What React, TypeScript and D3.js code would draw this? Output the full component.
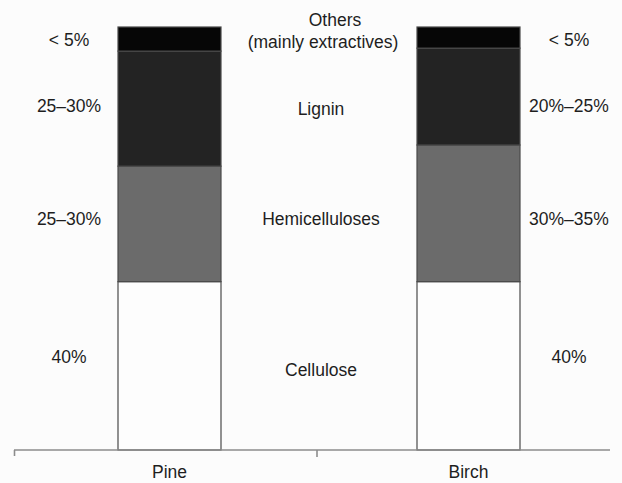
import React from 'react';
import * as d3 from 'd3';

// wood species and their share (%) of each component, bottom to top
const species = ['Pine', 'Birch'];
const components = ['Cellulose', 'Hemicelluloses', 'Lignin', 'Others'];
const pineShare = [39.8, 27.3, 27.2, 5.7];
const birchShare = [39.8, 32.3, 22.9, 5.0];
const pineLabels = ['40%', '25–30%', '25–30%', '< 5%'];
const birchLabels = ['40%', '30%–35%', '20%–25%', '< 5%'];
const componentNames = [['Cellulose'], ['Hemicelluloses'], ['Lignin'], ['Others', '(mainly extractives)']];

const W = 622;
const H = 483;
const FONT = 'Liberation Sans, Arial, Helvetica, sans-serif';

export default function App() {
  const rows = components.map((c, i) => ({ comp: c, Pine: pineShare[i], Birch: birchShare[i] }));
  const table: Record<string, number | string>[] = species.map((s) => {
    const r: Record<string, number | string> = { species: s };
    components.forEach((c, i) => (r[c] = s === 'Pine' ? pineShare[i] : birchShare[i]));
    return r;
  });
  const stacked = d3.stack<any>().keys(components)(table);

  const x = d3.scalePoint<string>().domain(species).range([20, 618]).padding(0.5);
  const y = d3.scaleLinear().domain([0, 100]).range([450, 27]);
  const barW = 103;
  const fills = ['#fdfdfd', '#6b6b6b', '#232323', '#060606'];

  // label rows sit at the average of both bars' segment midpoints
  const mid = (k: number) =>
    d3.mean(stacked[k], (d) => y((d[0] + d[1]) / 2)) as number;
  const pctNudge = [-9, 0, 3, 2];
  const nameNudge = [4, 0, 6, 0];

  const leftX = (x('Pine') as number) - barW / 2 - 49;
  const rightX = (x('Birch') as number) + barW / 2 + 49;
  const centerX = ((x('Pine') as number) + (x('Birch') as number)) / 2;

  const txt = { fontFamily: FONT, fontSize: 17.5, fill: '#1e1e1e' } as const;

  return (
    <svg width={W} height={H} style={{ position: 'absolute', left: 0, top: 0, background: '#fcfcfc' }}>
      {stacked.map((layer, k) =>
        layer.map((d, j) => (
          <rect
            key={`${k}-${j}`}
            x={(x(species[j]) as number) - barW / 2}
            y={y(d[1])}
            width={barW}
            height={y(d[0]) - y(d[1])}
            fill={fills[k]}
            stroke="#4a4a4a"
            strokeWidth={1.2}
          />
        ))
      )}

      {/* baseline axis */}
      <line x1={14} x2={610} y1={y(0)} y2={y(0)} stroke="#8c8c8c" strokeWidth={1.6} />
      <line x1={14.5} x2={14.5} y1={y(0)} y2={y(0) + 6} stroke="#8c8c8c" strokeWidth={1.6} />
      <line x1={centerX - 2} x2={centerX - 2} y1={y(0)} y2={y(0) + 7} stroke="#8c8c8c" strokeWidth={1.6} />

      {species.map((s) => (
        <text key={s} x={x(s)} y={472} textAnchor="middle" dominantBaseline="central" {...txt}>
          {s}
        </text>
      ))}

      {components.map((c, k) => {
        const yy = mid(k);
        const names = componentNames[k];
        return (
          <g key={c}>
            <text x={leftX} y={yy + pctNudge[k]} textAnchor="middle" dominantBaseline="central" {...txt}>
              {pineLabels[k]}
            </text>
            <text x={rightX} y={yy + pctNudge[k]} textAnchor="middle" dominantBaseline="central" {...txt}>
              {birchLabels[k]}
            </text>
            {names.length === 1 ? (
              <text x={centerX + 2} y={yy + nameNudge[k]} textAnchor="middle" dominantBaseline="central" {...txt}>
                {names[0]}
              </text>
            ) : (
              <>
                <text x={centerX + 16} y={20} textAnchor="middle" dominantBaseline="central" {...txt}>
                  {names[0]}
                </text>
                <text x={centerX + 4} y={42} textAnchor="middle" dominantBaseline="central" {...txt}>
                  {names[1]}
                </text>
              </>
            )}
          </g>
        );
      })}
    </svg>
  );
}
